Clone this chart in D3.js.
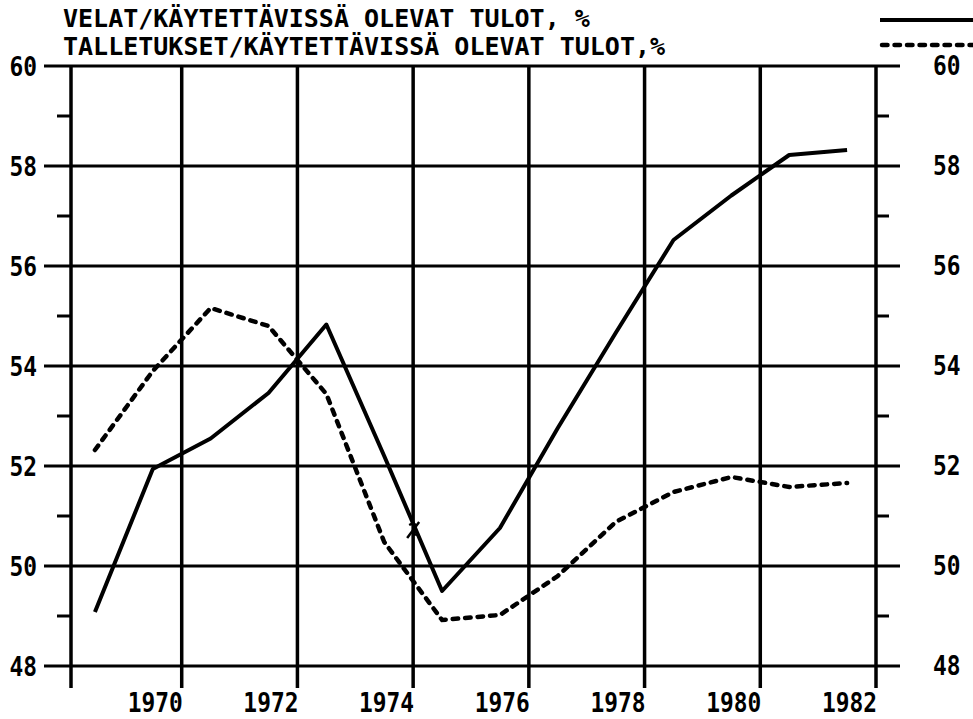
<!DOCTYPE html>
<html>
<head>
<meta charset="utf-8">
<script src="https://cdn.jsdelivr.net/npm/d3@7"></script>
<style>
  body { margin: 0; background: #fff; }
  svg { display: block; }
</style>
</head>
<body>
<div id="chart"></div>
<script>
// Data (annual values, plotted at mid-year)
const years = [1968, 1969, 1970, 1971, 1972, 1973, 1974, 1975, 1976, 1977, 1978, 1979, 1980, 1981];
const velat = [49.08, 51.94, 52.55, 53.46, 54.83, 52.2, 49.5, 50.76, 52.76, 54.66, 56.52, 57.41, 58.22, 58.32];
const talletukset = [52.32, 53.9, 55.16, 54.8, 53.44, 50.48, 48.92, 49.02, 49.8, 50.88, 51.48, 51.78, 51.58, 51.66];
const yTicks = [48, 50, 52, 54, 56, 58, 60];
const yMinor = [49, 51, 53, 55, 57, 59];
const xTicks = [1970, 1972, 1974, 1976, 1978, 1980, 1982];
const titles = ['VELAT/KÄYTETTÄVISSÄ OLEVAT TULOT, %', 'TALLETUKSET/KÄYTETTÄVISSÄ OLEVAT TULOT,%'];

const width = 973, height = 719;
const plotLeft = 71, plotRight = 876, plotTop = 66, plotBottom = 666;
const font = "'DejaVu Sans Mono', monospace";

const svg = d3.select('#chart').append('svg')
  .attr('width', width)
  .attr('height', height)
  .attr('viewBox', [0, 0, width, height]);

const x = d3.scaleLinear().domain([1968, 1982]).range([66, plotRight]);
const y = d3.scaleLinear().domain([48, 60]).range([plotBottom, plotTop]);

// text helper: squeeze glyphs horizontally like the plotter font
function label(g, str, px, py, size, sx, anchor) {
  return g.append('text')
    .attr('transform', `translate(${px},${py}) scale(${sx},1)`)
    .attr('text-anchor', anchor)
    .attr('font-family', font)
    .attr('font-weight', 'bold')
    .attr('font-size', size)
    .attr('fill', '#000')
    .text(str);
}

const grid = svg.append('g').attr('stroke', '#000');

// horizontal grid lines
grid.selectAll('line.h')
  .data(yTicks)
  .join('line')
  .attr('class', 'h')
  .attr('x1', 44).attr('x2', 900)
  .attr('y1', d => y(d)).attr('y2', d => y(d))
  .attr('stroke-width', 3);

// frame verticals
grid.selectAll('line.frame')
  .data([plotLeft, plotRight])
  .join('line')
  .attr('class', 'frame')
  .attr('x1', d => d).attr('x2', d => d)
  .attr('y1', plotTop).attr('y2', 688)
  .attr('stroke-width', 3.5);

// vertical grid lines
grid.selectAll('line.v')
  .data(xTicks.filter(d => d < 1982))
  .join('line')
  .attr('class', 'v')
  .attr('x1', d => x(d)).attr('x2', d => x(d))
  .attr('y1', plotTop).attr('y2', 688)
  .attr('stroke-width', 3.5);

// minor ticks
grid.selectAll('line.ml')
  .data(yMinor)
  .join('line')
  .attr('class', 'ml')
  .attr('x1', plotLeft - 14).attr('x2', plotLeft)
  .attr('y1', d => y(d)).attr('y2', d => y(d))
  .attr('stroke-width', 3);
grid.selectAll('line.mr')
  .data(yMinor)
  .join('line')
  .attr('class', 'mr')
  .attr('x1', plotRight).attr('x2', plotRight + 13)
  .attr('y1', d => y(d)).attr('y2', d => y(d))
  .attr('stroke-width', 3);

// tick labels
const labels = svg.append('g');
yTicks.forEach(v => {
  label(labels, String(v), 37, y(v) + 10, 26, 0.88, 'end');
  label(labels, String(v), 933, y(v) + 9, 26, 0.88, 'start');
});
xTicks.forEach(v => {
  label(labels, String(v), x(v) + 1, 712, 26, 0.88, 'end');
});

// data lines
const lineGen = d3.line()
  .x((d, i) => x(years[i] + 0.5))
  .y(d => y(d));

svg.append('path')
  .datum(velat)
  .attr('d', lineGen)
  .attr('fill', 'none')
  .attr('stroke', '#000')
  .attr('stroke-width', 4)
  .attr('stroke-linejoin', 'round');

svg.append('path')
  .datum(talletukset)
  .attr('d', lineGen)
  .attr('fill', 'none')
  .attr('stroke', '#000')
  .attr('stroke-width', 4.5)
  .attr('stroke-linecap', 'round')
  .attr('stroke-dasharray', '5.5,7');

// small plotter mark on the solid line
const mx = x(1974), my = y(50.72);
svg.append('path')
  .attr('d', `M${mx - 6},${my + 8}L${mx + 6},${my - 8}M${mx - 4},${my - 5}Q${mx + 4},${my - 9} ${mx + 2},${my}Q${mx - 2},${my + 6} ${mx + 6},${my + 4}`)
  .attr('fill', 'none')
  .attr('stroke', '#000')
  .attr('stroke-width', 2.5);

// titles
label(svg, titles[0], 63, 27, 25, 1.0, 'start');
label(svg, titles[1], 63, 55, 25, 1.0, 'start');

// legend samples
svg.append('line')
  .attr('x1', 880).attr('x2', width)
  .attr('y1', 20).attr('y2', 20)
  .attr('stroke', '#000').attr('stroke-width', 4);
svg.append('line')
  .attr('x1', 882).attr('x2', width)
  .attr('y1', 45).attr('y2', 45)
  .attr('stroke', '#000').attr('stroke-width', 4.5)
  .attr('stroke-linecap', 'round')
  .attr('stroke-dasharray', '5.5,7');
</script>
</body>
</html>
